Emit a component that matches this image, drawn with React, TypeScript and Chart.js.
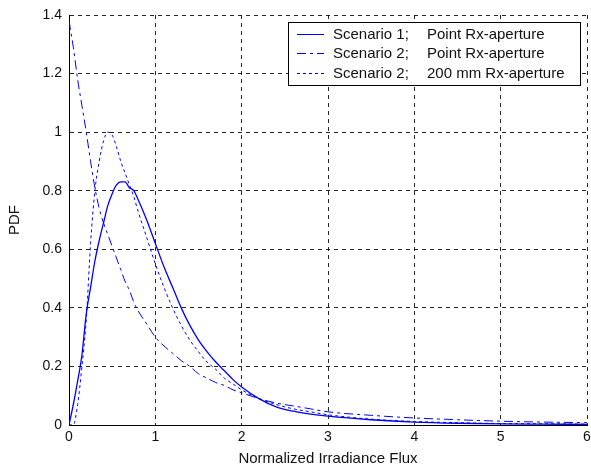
import { useEffect, useRef } from "react";
import { Chart, registerables } from "chart.js";

Chart.register(...registerables);

// Normalized irradiance flux samples (x) shared by all three PDFs
const irradiance = [
  0, 0.05, 0.1, 0.15, 0.2, 0.25, 0.3, 0.35, 0.4, 0.45, 0.5, 0.55, 0.6, 0.65, 0.7, 0.75, 0.8, 0.9, 1.0, 1.1,
  1.2, 1.3, 1.4, 1.5, 1.6, 1.7, 1.8, 1.9, 2.0, 2.2, 2.4, 2.6, 2.8, 3.0, 3.5, 4.0, 4.5, 5.0, 5.5, 6.0,
];

// Scenario 1, point receiver aperture
const scenario1Point = [
  0, 0.07, 0.15, 0.24, 0.38, 0.47, 0.56, 0.63, 0.69, 0.75, 0.79, 0.82, 0.83, 0.83, 0.81, 0.8, 0.77, 0.7, 0.62, 0.54,
  0.47, 0.4, 0.34, 0.29, 0.25, 0.215, 0.185, 0.155, 0.13, 0.09, 0.062, 0.047, 0.037, 0.03, 0.018, 0.01, 0.006, 0.004,
  0.003, 0.002,
];

// Scenario 2, point receiver aperture
const scenario2Point = [
  1.38, 1.29, 1.18, 1.09, 1.0, 0.9, 0.81, 0.74, 0.69, 0.65, 0.61, 0.57, 0.53, 0.49, 0.46, 0.42, 0.39, 0.345, 0.3, 0.27,
  0.245, 0.22, 0.2, 0.175, 0.16, 0.145, 0.135, 0.12, 0.11, 0.09, 0.075, 0.065, 0.055, 0.045, 0.033, 0.024, 0.018,
  0.013, 0.01, 0.008,
];

// Scenario 2, 200 mm receiver aperture
const scenario2Aperture = [
  0, 0, 0.07, 0.2, 0.36, 0.62, 0.8, 0.9, 0.97, 1.0, 0.99, 0.95, 0.9, 0.86, 0.82, 0.78, 0.73, 0.64, 0.55, 0.47,
  0.4, 0.34, 0.29, 0.25, 0.215, 0.19, 0.16, 0.14, 0.12, 0.09, 0.07, 0.055, 0.045, 0.035, 0.02, 0.012, 0.008, 0.005,
  0.004, 0.003,
];

const seriesLabels = [
  "Scenario 1;   Point Rx-aperture",
  "Scenario 2;   Point Rx-aperture",
  "Scenario 2;   200 mm Rx-aperture",
];

const xTicks = [0, 1, 2, 3, 4, 5, 6];
const yTicks = [0, 0.2, 0.4, 0.6, 0.8, 1, 1.2, 1.4];

const FONT = '"Liberation Sans", Arial, Helvetica, sans-serif';
const BLUE = "rgb(0,0,255)";
const INK = "#111";

const toPoints = (ys: number[]) => irradiance.map((x, i) => ({ x, y: ys[i] }));

// Boxed legend drawn inside the upper-right corner of the plot area
const boxLegend = {
  id: "boxLegend",
  afterDraw(chart: any) {
    const { ctx, chartArea } = chart;
    const w = 292;
    const h = 63;
    const x0 = Math.round(chartArea.right - 7 - w);
    const y0 = Math.round(chartArea.top + 7);
    ctx.save();
    ctx.fillStyle = "#fff";
    ctx.fillRect(x0, y0, w, h);
    ctx.strokeStyle = "#000";
    ctx.lineWidth = 1;
    ctx.setLineDash([]);
    ctx.strokeRect(x0 + 0.5, y0 + 0.5, w, h);
    ctx.font = `15px ${FONT}`;
    ctx.textBaseline = "middle";
    ctx.textAlign = "left";
    chart.data.datasets.forEach((ds: any, i: number) => {
      const y = y0 + 11.5 + i * 19.5;
      ctx.strokeStyle = ds.borderColor;
      ctx.lineWidth = 1;
      ctx.setLineDash(ds.borderDash || []);
      ctx.beginPath();
      ctx.moveTo(x0 + 9, Math.round(y) + 0.5);
      ctx.lineTo(x0 + 36, Math.round(y) + 0.5);
      ctx.stroke();
      ctx.setLineDash([]);
      const [left, right] = String(ds.label).split(";");
      ctx.fillStyle = INK;
      ctx.fillText(left + ";", x0 + 45, y + 1);
      ctx.fillText(right.trim(), x0 + 139, y + 1);
    });
    ctx.restore();
  },
};

export default function App() {
  const canvasRef = useRef<HTMLCanvasElement | null>(null);

  useEffect(() => {
    const canvas = canvasRef.current;
    if (!canvas) return;
    const common = {
      borderColor: BLUE,
      pointRadius: 0,
      fill: false,
      cubicInterpolationMode: "monotone" as const,
    };
    const chart = new Chart(canvas, {
      type: "line",
      data: {
        datasets: [
          { ...common, label: seriesLabels[0], data: toPoints(scenario1Point), borderDash: [], borderWidth: 1.3 },
          { ...common, label: seriesLabels[1], data: toPoints(scenario2Point), borderDash: [9, 4, 3, 4], borderWidth: 1 },
          { ...common, label: seriesLabels[2], data: toPoints(scenario2Aperture), borderDash: [3, 3], borderWidth: 1 },
        ],
      },
      options: {
        animation: false,
        responsive: false,
        devicePixelRatio: 1,
        layout: { padding: { top: 15, right: 4, left: 0, bottom: 0 } },
        plugins: {
          legend: { display: false },
          tooltip: { enabled: false },
        },
        scales: {
          x: {
            type: "linear",
            min: 0,
            max: 6,
            afterBuildTicks: (scale: any) => {
              scale.ticks = xTicks.map((v) => ({ value: v }));
            },
            afterFit: (scale: any) => {
              scale.height = 43;
              scale.paddingLeft = 0;
              scale.paddingRight = 0;
            },
            ticks: {
              color: INK,
              font: { family: FONT, size: 14 },
              padding: 4,
              maxRotation: 0,
              callback: (v: any) => String(v),
            },
            grid: { color: "rgba(0,0,0,0.85)", drawTicks: false, lineWidth: 1 },
            border: { color: "#000", width: 1, dash: [4, 4] },
            title: {
              display: true,
              text: "Normalized Irradiance Flux",
              color: INK,
              font: { family: FONT, size: 15 },
              padding: { top: 0, bottom: 0 },
            },
          },
          y: {
            type: "linear",
            min: 0,
            max: 1.4,
            afterBuildTicks: (scale: any) => {
              scale.ticks = yTicks.map((v) => ({ value: v }));
            },
            afterFit: (scale: any) => {
              scale.width = 69;
              scale.paddingTop = 0;
              scale.paddingBottom = 0;
            },
            ticks: {
              color: INK,
              font: { family: FONT, size: 14 },
              padding: 7,
              callback: (v: any) => String(Math.round(Number(v) * 10) / 10),
            },
            grid: { color: "rgba(0,0,0,0.85)", drawTicks: false, lineWidth: 1 },
            border: { color: "#000", width: 1, dash: [4, 4] },
            title: {
              display: true,
              text: "PDF",
              color: INK,
              font: { family: FONT, size: 15 },
              padding: { top: 6, bottom: 0 },
            },
          },
        },
      },
      plugins: [boxLegend],
    });
    return () => chart.destroy();
  }, []);

  return (
    <div style={{ position: "absolute", left: 0, top: 0, width: 591, height: 468, background: "#fff" }}>
      <canvas ref={canvasRef} width={591} height={468} style={{ display: "block" }} />
    </div>
  );
}
